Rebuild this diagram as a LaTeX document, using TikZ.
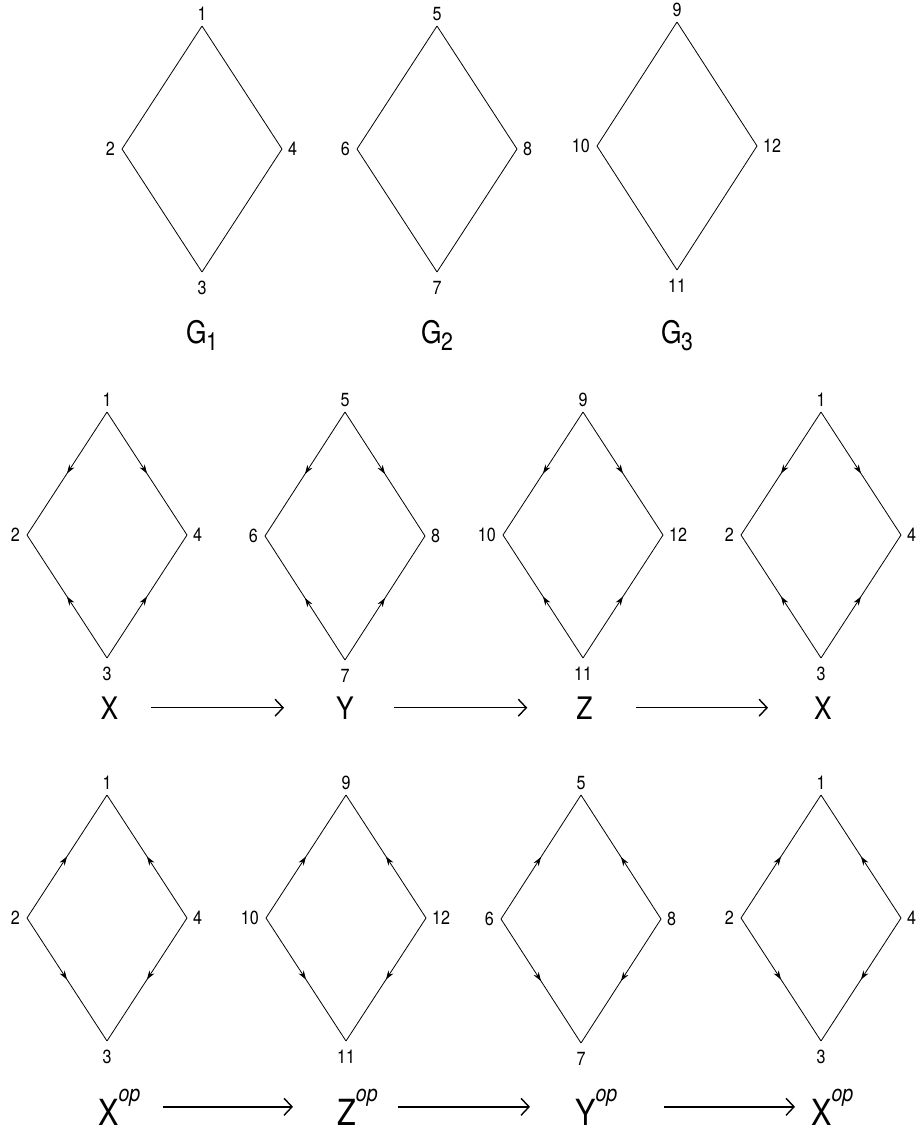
\documentclass[tikz,border=0pt]{standalone}
\usepackage{fontspec}
\setmainfont{TeX Gyre Heros}[FakeStretch=0.85]
\usetikzlibrary{positioning,arrows.meta,decorations.markings}

\newcommand{\lowidx}[1]{\kern-0.5pt\raisebox{-7pt}{\fontsize{25}{25}\selectfont #1}}
\newcommand{\opp}[1]{#1\raisebox{24pt}{\fontsize{23}{23}\selectfont\itshape op}}

\tikzset{
  side/.style={line width=0.8pt},
  bare/.style={side},
  outward/.style={side,postaction={decorate},
    decoration={markings,mark=at position 0.5 with {\arrow{Stealth[length=9pt,width=6pt]}}}},
  inward/.style={side,postaction={decorate},
    decoration={markings,mark=at position 0.5 with {\arrowreversed{Stealth[length=9pt,width=6pt]}}}},
  vlabel/.style={font=\fontsize{19}{19}\selectfont,inner sep=0pt},
  obj/.style={font=\fontsize{31}{31}\selectfont,inner sep=0pt,anchor=base},
  opobj/.style={font=\fontsize{36}{36}\selectfont,inner sep=0pt,anchor=base west},
  map/.style={-{Straight Barb[length=8pt,width=17pt]},line width=1.4pt}
}

\begin{document}
\begin{tikzpicture}[x=1pt,y=-1pt]
\useasboundingbox (0,0) rectangle (923,1133);

% diamonds: name / centre / half height / top, left, bottom, right labels / edge style
\foreach \nm/\cx/\cy/\hh/\a/\b/\c/\d/\kind in {
    ga/202/149/123/1/2/3/4/bare, gb/437/149/123/5/6/7/8/bare, gc/677/146/124/9/10/11/12/bare,
    xa/107/535/123/1/2/3/4/outward, ya/345/536/124/5/6/7/8/outward,
    za/583/535/123/9/10/11/12/outward, xb/821/535/123/1/2/3/4/outward,
    xc/107/918/123/1/2/3/4/inward, zc/346/918/123/9/10/11/12/inward,
    yc/581/919/124/5/6/7/8/inward, xd/821/918/123/1/2/3/4/inward}
{
  \coordinate (\nm-t) at (\cx,\cy-\hh);
  \coordinate (\nm-l) at (\cx-80,\cy);
  \coordinate (\nm-b) at (\cx,\cy+\hh);
  \coordinate (\nm-r) at (\cx+80,\cy);
  \draw[\kind] (\nm-t) -- (\nm-l);
  \draw[\kind] (\nm-t) -- (\nm-r);
  \draw[\kind] (\nm-b) -- (\nm-l);
  \draw[\kind] (\nm-b) -- (\nm-r);
  \node[vlabel,above=5pt of \nm-t] (\nm-\a) {\a};
  \node[vlabel,left=7pt of \nm-l] (\nm-\b) {\b};
  \node[vlabel,below=9pt of \nm-b] (\nm-\c) {\c};
  \node[vlabel,right=6pt of \nm-r] (\nm-\d) {\d};
}

% graph names
\node[obj] (g1) at (202,343) {G\lowidx{1}};
\node[obj] (g2) at (437,343) {G\lowidx{2}};
\node[obj] (g3) at (677,343) {G\lowidx{3}};

% the cycle
\node[obj] (x1) at (109.5,719) {X};
\node[obj] (y1) at (345,719) {Y};
\node[obj] (z1) at (584.5,719) {Z};
\node[obj] (x2) at (823,719) {X};
\draw[map,shorten <=33pt,shorten >=52pt] (x1) -- (y1);
\draw[map,shorten <=40pt,shorten >=49pt] (y1) -- (z1);
\draw[map,shorten <=43pt,shorten >=46pt] (z1) -- (x2);

% the opposite cycle
\node[opobj] (xo1) at (98,1125) {\opp{X}};
\node[opobj] (zo) at (337,1125) {\opp{Z}};
\node[opobj] (yo) at (575,1125) {\opp{Y}};
\node[opobj] (xo2) at (811,1125) {\opp{X}};
\draw[map,shorten <=22pt,shorten >=44pt] (xo1) -- (zo);
\draw[map,shorten <=20pt,shorten >=45pt] (zo) -- (yo);
\draw[map,shorten <=46pt,shorten >=16pt] (yo) -- (xo2);
\end{tikzpicture}
\end{document}
